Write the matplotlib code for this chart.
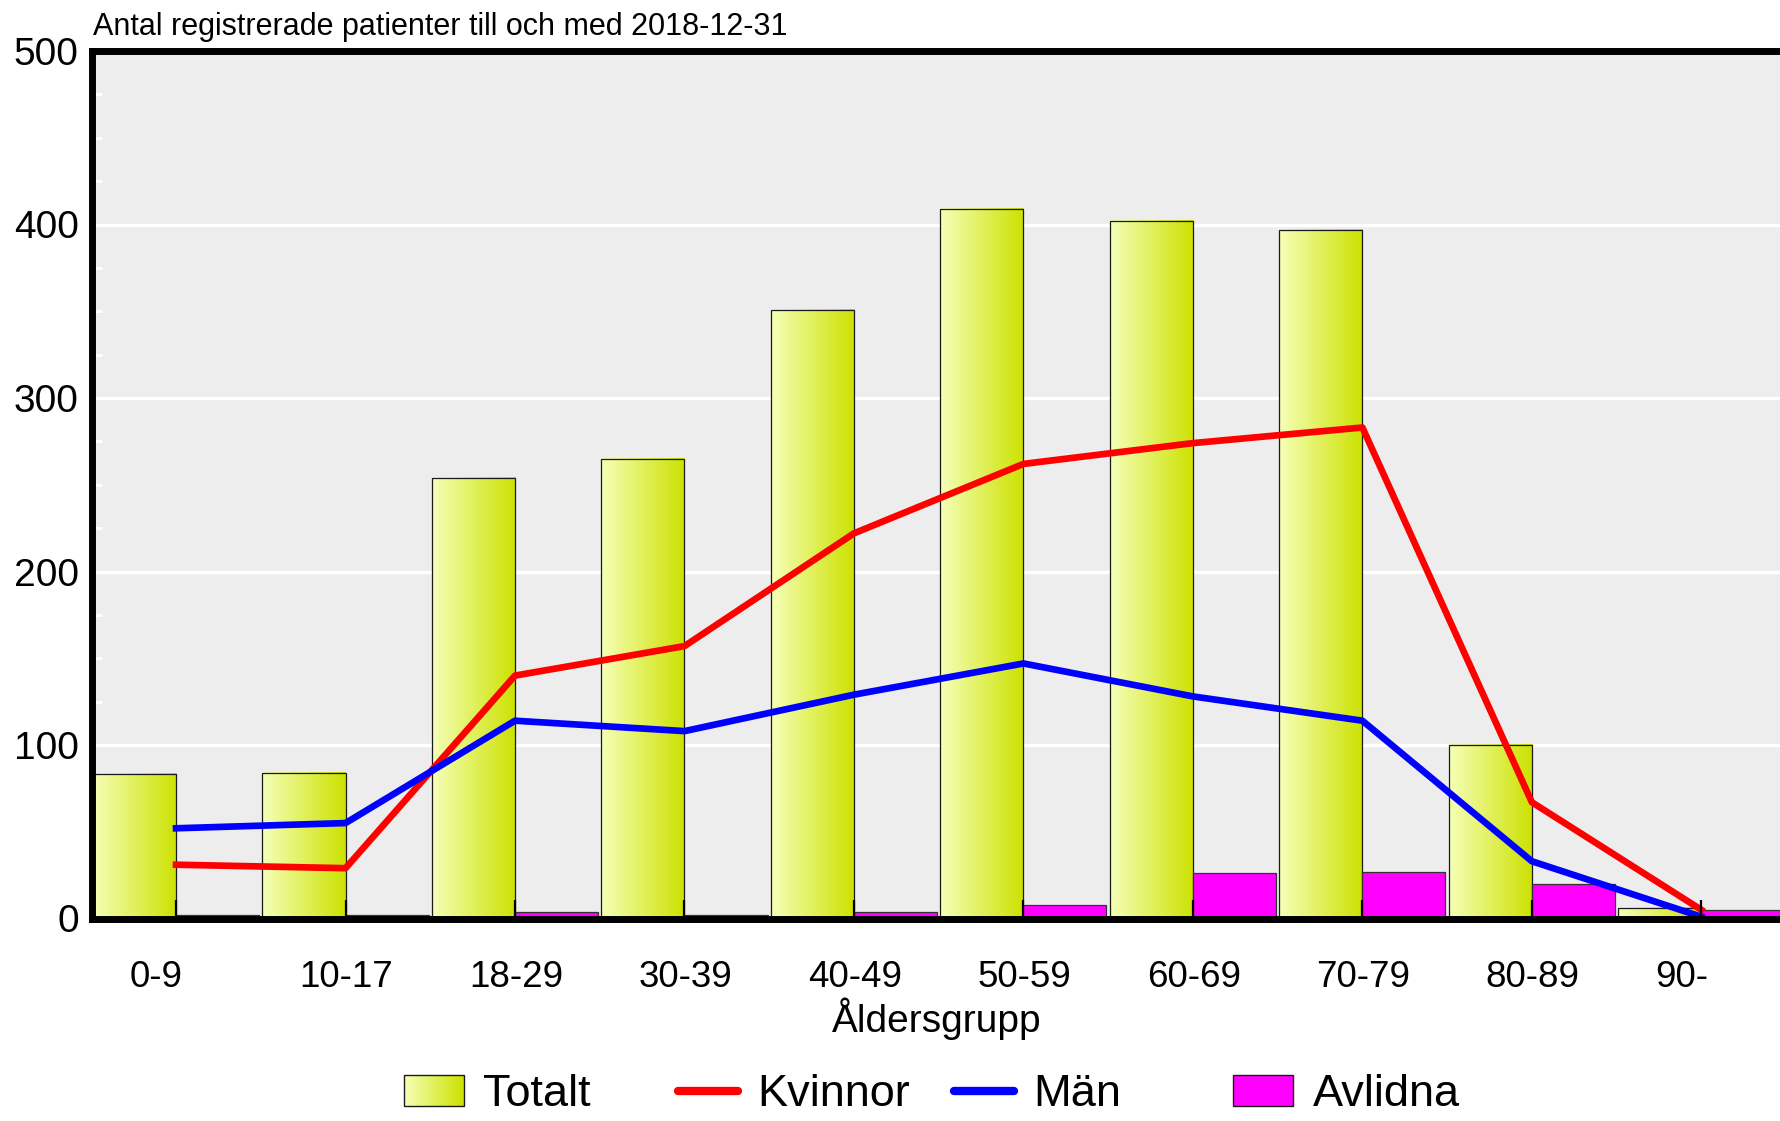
import numpy as np
import matplotlib
matplotlib.use('Agg')
import matplotlib.pyplot as plt
from matplotlib.colors import LinearSegmentedColormap
from matplotlib.transforms import ScaledTranslation
from matplotlib.legend_handler import HandlerBase
from matplotlib.patches import Rectangle, Patch
from matplotlib.lines import Line2D

# ---- data ----
categories = ['0-9', '10-17', '18-29', '30-39', '40-49', '50-59', '60-69', '70-79', '80-89', '90-']
totalt = [83, 84, 254, 265, 351, 409, 402, 397, 100, 6]
kvinnor = [31, 29, 140, 157, 222, 262, 274, 283, 67, 5]
man = [52, 55, 114, 108, 129, 147, 128, 114, 33, 1]
avlidna = [2, 2, 4, 2, 4, 8, 26, 27, 20, 5]
y_ticks = [0, 100, 200, 300, 400, 500]
y_minor = [25, 50, 75, 125, 150, 175, 225, 250, 275, 325, 350, 375, 425, 450, 475]
legend_labels = ['Totalt', 'Kvinnor', 'Män', 'Avlidna']
title = 'Antal registrerade patienter till och med 2018-12-31'
xlabel = 'Åldersgrupp'

plt.rcParams['font.family'] = ['Liberation Sans', 'DejaVu Sans']

W, H = 1781, 1121
fig = plt.figure(figsize=(W / 100, H / 100), dpi=100)
ax = fig.add_axes([92 / W, (H - 918.5) / H, 1 - 92 / W, (918.5 - 51) / H])
ax.set_facecolor('#EDEDED')

cmap = LinearSegmentedColormap.from_list('yl', ['#F6FFB8', '#CCE200'])
grad = np.linspace(0, 1, 256).reshape(1, -1)

x = np.arange(len(categories))
bw = 0.49
bars = ax.bar(x, totalt, width=-bw, align='edge', facecolor='none',
              edgecolor='#1a1a1a', linewidth=0.9, zorder=3)
for b in bars:
    bb = b.get_bbox()
    x0, x1 = min(bb.x0, bb.x1), max(bb.x0, bb.x1)
    ax.imshow(grad, cmap=cmap, extent=(x0, x1, bb.y0, bb.y1),
              aspect='auto', zorder=2.9, interpolation='bilinear')
ax.bar(x, avlidna, width=bw, align='edge', color='#FF00FF',
       edgecolor='#333333', linewidth=0.9, zorder=3)
ax.plot(x, kvinnor, color='#FF0000', lw=4.8, zorder=4)
ax.plot(x, man, color='#0000FF', lw=4.8, zorder=4)

ax.set_xlim(-0.496, 9.47)
ax.set_ylim(0, 500)

ax.set_yticks(y_ticks)
ax.set_yticks(y_minor, minor=True)
ax.yaxis.grid(True, which='major', color='white', lw=2.4)
ax.yaxis.set_zorder(0.5)
ax.xaxis.set_zorder(5)

for s in ['left', 'top', 'bottom']:
    ax.spines[s].set_linewidth(5)
    ax.spines[s].set_color('black')
    ax.spines[s].set_zorder(6)
ax.spines['right'].set_visible(False)

ax.set_xticks(x, categories)
ax.tick_params(axis='x', which='major', direction='in', length=14, width=1.6,
               color='black', pad=30, labelsize=26.5, top=False)
ax.tick_params(axis='x', which='minor', bottom=False, top=False)
ax.tick_params(axis='y', which='both', direction='in', color='white', width=2,
               length=7, pad=9.5, labelsize=28, right=False)

offset = ScaledTranslation(-46 / 100, 0, fig.dpi_scale_trans)
for lab in ax.get_xticklabels():
    lab.set_ha('left')
    lab.set_transform(lab.get_transform() + offset)

ax.set_xlabel(xlabel, fontsize=28, labelpad=1.5)

fig.text(93 / W, 1 - 35 / H, title, fontsize=22, ha='left', va='baseline')


class HandlerGradient(HandlerBase):
    def create_artists(self, legend, orig_handle, xdescent, ydescent,
                       width, height, fontsize, trans):
        arts = []
        n = 30
        for i in range(n):
            r = Rectangle((-xdescent + i * width / n, -ydescent), width / n * 1.05, height,
                          facecolor=cmap((i + 0.5) / n), edgecolor='none', transform=trans)
            arts.append(r)
        arts.append(Rectangle((-xdescent, -ydescent), width, height, facecolor='none',
                              edgecolor='#1a1a1a', lw=1.0, transform=trans))
        return arts


h_tot = Patch(facecolor='#E0F060', edgecolor='black')
h_kv = Line2D([], [], color='#FF0000', lw=6, solid_capstyle='round')
h_man = Line2D([], [], color='#0000FF', lw=6, solid_capstyle='round')
h_avl = Patch(facecolor='#FF00FF', edgecolor='#1a1a1a', lw=1.0)
handles = [h_tot, h_kv, h_man, h_avl]
leg_x = [404, 678, 954, 1233]
for h, lab, lx in zip(handles, legend_labels, leg_x):
    kw = {}
    if h is h_tot:
        kw['handler_map'] = {Patch: HandlerGradient()}
    fig.legend(handles=[h], labels=[lab], loc='center left',
               bbox_to_anchor=(lx / W, 1 - 1095 / H), frameon=False,
               borderpad=0, borderaxespad=0, fontsize=32.5, handlelength=1.32,
               handleheight=0.66, handletextpad=0.44, **kw)

fig.savefig('out.png', dpi=100)
